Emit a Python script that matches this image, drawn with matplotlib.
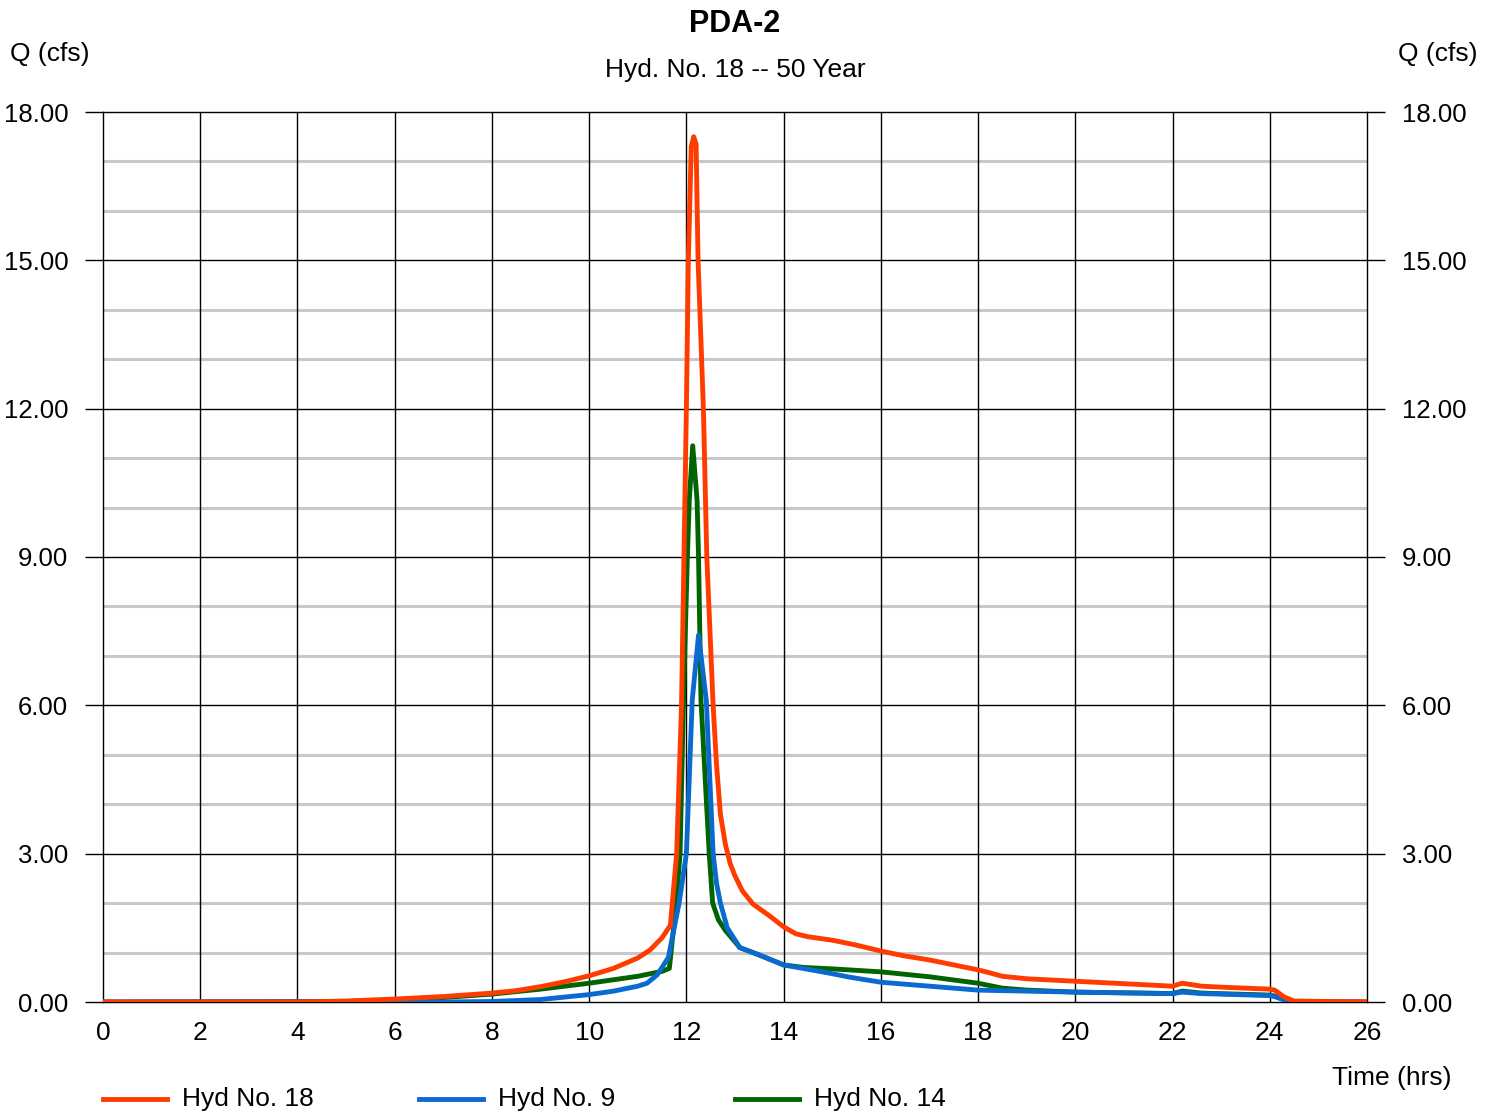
import matplotlib
matplotlib.use("Agg")
import matplotlib.pyplot as plt
from matplotlib.lines import Line2D
import numpy as np

plt.rcParams['font.family'] = ['Liberation Sans', 'DejaVu Sans']

# Hyd No. 18
t18 = [0, 4, 5, 6, 7, 8, 8.5, 9, 9.5, 10, 10.5, 11, 11.25, 11.5, 11.67, 11.8, 11.9, 12.0, 12.04,
       12.1, 12.15, 12.2, 12.24, 12.35, 12.42, 12.55, 12.62, 12.7, 12.8, 12.9, 13.0, 13.15, 13.37,
       13.7, 14.0, 14.25, 14.5, 15.0, 15.5, 16.0, 16.5, 17.0, 18.0, 18.2, 18.5, 19.0, 20.0, 21.0,
       22.0, 22.2, 22.6, 23.0, 24.0, 24.1, 24.3, 24.5, 26]
q18 = [0, 0.0, 0.02, 0.06, 0.11, 0.18, 0.23, 0.31, 0.41, 0.53, 0.68, 0.89, 1.05, 1.3, 1.55, 3.0, 6.0, 12.0, 15.0,
       17.3, 17.5, 17.35, 15.0, 12.0, 9.0, 6.0, 4.8, 3.8, 3.2, 2.8, 2.55, 2.25, 1.98,
       1.75, 1.52, 1.38, 1.32, 1.25, 1.15, 1.03, 0.93, 0.85, 0.65, 0.6, 0.52, 0.47, 0.42, 0.37,
       0.32, 0.38, 0.32, 0.3, 0.26, 0.24, 0.1, 0.02, 0.0]

# Hyd No. 9
t9 = [0, 6, 7, 8, 9, 9.5, 10, 10.5, 11, 11.19, 11.4, 11.63, 11.85, 12.0, 12.12, 12.25, 12.41,
      12.55, 12.62, 12.7, 12.84, 13.1, 13.5, 14.0, 14.96, 15.37, 16.0, 17.0, 18.0, 19.0, 20.0, 22.0,
      22.2, 22.6, 24.0, 24.1, 24.3, 24.5, 26]
q9 = [0, 0.0, 0.0, 0.01, 0.05, 0.1, 0.15, 0.22, 0.32, 0.38, 0.55, 0.9, 2.0, 3.0, 6.1, 7.42, 6.1,
      3.0, 2.4, 2.0, 1.5, 1.1, 0.95, 0.75, 0.58, 0.5, 0.4, 0.32, 0.24, 0.22, 0.2, 0.17,
      0.2, 0.17, 0.13, 0.11, 0.04, 0.0, 0]

# Hyd No. 14
t14 = [0, 5, 6, 7, 8, 8.5, 9, 9.5, 10, 10.5, 11, 11.5, 11.65, 11.79, 11.87, 11.94, 12.02, 12.06,
       12.13, 12.22, 12.25, 12.3, 12.47, 12.54, 12.66, 12.8, 13.1, 13.5, 14.0, 14.4, 15.0, 16.0,
       17.0, 18.0, 18.5, 19.0, 20.0, 22.0, 22.2, 22.6, 24.0, 24.1, 24.3, 24.5, 26]
q14 = [0, 0.01, 0.04, 0.09, 0.16, 0.21, 0.26, 0.32, 0.38, 0.45, 0.52, 0.62, 0.68, 2.0, 3.0, 6.1, 9.0, 10.15,
       11.25, 10.15, 9.0, 6.1, 3.0, 2.0, 1.66, 1.45, 1.1, 0.95, 0.75, 0.7, 0.67, 0.61,
       0.51, 0.38, 0.28, 0.24, 0.2, 0.17, 0.22, 0.18, 0.14, 0.12, 0.05, 0.01, 0]

series = [("Hyd No. 18", t18, q18, "#ff3c00"),
          ("Hyd No. 9", t9, q9, "#0a6ad0"),
          ("Hyd No. 14", t14, q14, "#006400")]

fs = 19

fig = plt.figure(figsize=(14.97, 11.14), dpi=100)
ax = fig.add_axes([103 / 1497, 1 - 1002 / 1114, 1264 / 1497, 890 / 1114])

# grid
for y in range(1, 18):
    if y % 3:
        ax.axhline(y, color="#c8c8c8", lw=2.2, zorder=1)
    else:
        ax.axhline(y, color="black", lw=1.0, zorder=1)
for x in range(2, 26, 2):
    ax.axvline(x, color="black", lw=1.0, zorder=1)

for name, t, q, c in series[::-1]:
    ax.plot(t, q, color=c, lw=3.5, zorder=3, solid_joinstyle="round", solid_capstyle="round")

ax.set_xlim(0, 26)
ax.set_ylim(0, 18)
ax.set_xticks(range(0, 27, 2))
ax.set_yticks(range(0, 19, 3))
ax.set_yticklabels([f"{v:.2f}" for v in range(0, 19, 3)])
ax.tick_params(axis="x", length=0, pad=14, labelsize=fs)
ax.tick_params(axis="y", length=13, width=1, labelsize=18.5, pad=12, right=True, labelright=True)
for s in ax.spines.values():
    s.set_linewidth(1.0)

fig.text(735 / 1497, 1 - 24 / 1114, "PDA-2", ha="center", va="center", fontsize=22, fontweight="bold")
fig.text(735 / 1497, 1 - 70 / 1114, "Hyd. No. 18 -- 50 Year", ha="center", va="center", fontsize=fs)
fig.text(10 / 1497, 1 - 54 / 1114, "Q (cfs)", ha="left", va="center", fontsize=fs)
fig.text(1477 / 1497, 1 - 54 / 1114, "Q (cfs)", ha="right", va="center", fontsize=fs)
fig.text(1451 / 1497, 1 - 1078 / 1114, "Time (hrs)", ha="right", va="center", fontsize=fs)

# legend
for i, (name, t, q, c) in enumerate(series):
    x0 = (103 + i * 316) / 1497
    yy = 1 - 1099 / 1114
    fig.add_artist(Line2D([x0, x0 + 64 / 1497], [yy, yy], color=c, lw=3.5, transform=fig.transFigure))
    fig.text(x0 + 79 / 1497, yy, name, ha="left", va="center", fontsize=fs)

fig.savefig("out.png", dpi=100)
